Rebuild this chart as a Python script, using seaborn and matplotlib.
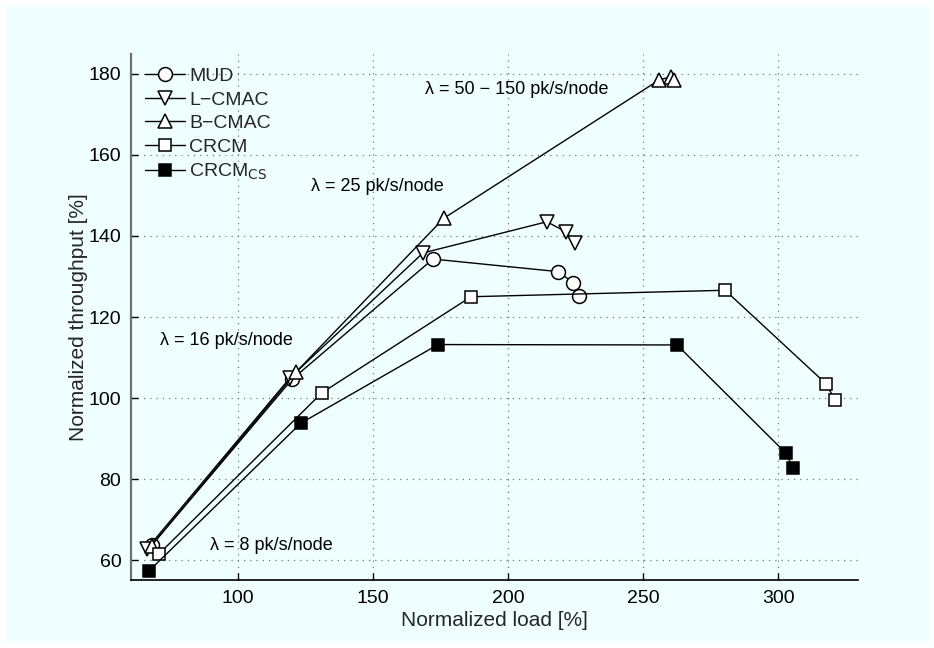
import matplotlib
matplotlib.use("Agg")
import matplotlib.pyplot as plt
import seaborn as sns
import pandas as pd
from matplotlib.patches import Rectangle

# Normalized load [%] and normalized throughput [%] per scheme
mud_load = [68.1, 120.0, 172.2, 218.5, 224.1, 226.3]
mud_thr = [63.7, 104.6, 134.3, 131.2, 128.5, 125.2]

lcmac_load = [66.3, 119.3, 168.5, 214.4, 221.5, 224.8]
lcmac_thr = [62.8, 105.0, 135.8, 143.5, 141.0, 138.3]

bcmac_load = [68.0, 121.5, 176.3, 256.0, 260.4, 261.5]
bcmac_thr = [63.6, 106.4, 144.4, 178.5, 179.3, 178.5]

crcm_load = [70.7, 131.1, 186.3, 280.4, 317.8, 321.1]
crcm_thr = [61.5, 101.3, 125.0, 126.6, 103.5, 99.5]

crcmcs_load = [67.0, 123.3, 174.1, 262.6, 302.9, 305.6]
crcmcs_thr = [57.3, 93.8, 113.2, 113.1, 86.4, 82.7]

series_names = ["MUD", "L\u2212CMAC", "B\u2212CMAC", "CRCM", r"CRCM$_{\mathrm{CS}}$"]

x_ticks = [100, 150, 200, 250, 300]
y_ticks = [60, 80, 100, 120, 140, 160, 180]

annotations = [
    (169.3, 176.1, "\u03bb = 50 \u2212 150 pk/s/node"),
    (127.0, 152.1, "\u03bb = 25 pk/s/node"),
    (71.1, 114.3, "\u03bb = 16 pk/s/node"),
    (89.6, 63.7, "\u03bb = 8 pk/s/node"),
]

sns.set_theme(style="white")
plt.rcParams["font.family"] = ["Liberation Sans", "DejaVu Sans"]
plt.rcParams["mathtext.default"] = "regular"

bg = "#EFFFFF"
fig = plt.figure(figsize=(9.34, 6.48), dpi=100, facecolor="white")
fig.patches.append(Rectangle((5 / 934, 5 / 648), 924 / 934, 638 / 648,
                             transform=fig.transFigure, facecolor=bg,
                             edgecolor="none", zorder=-10))
ax = fig.add_axes([131 / 934, 1 - 580 / 648, 727 / 934, 526 / 648])
ax.set_facecolor(bg)

styles = [
    (mud_load, mud_thr, "o", "white", 10),
    (lcmac_load, lcmac_thr, "v", "white", 10),
    (bcmac_load, bcmac_thr, "^", "white", 10),
    (crcm_load, crcm_thr, "s", "white", 8),
    (crcmcs_load, crcmcs_thr, "s", "black", 8),
]

for name, (xs, ys, mk, fc, ms) in zip(series_names, styles):
    df = pd.DataFrame({"load": xs, "thr": ys})
    sns.lineplot(data=df, x="load", y="thr", ax=ax, sort=False, estimator=None,
                 color="black", linewidth=1.0, marker=mk, markersize=ms,
                 markerfacecolor=fc, markeredgecolor="black",
                 markeredgewidth=1.1, label=name)

for x, y, s in annotations:
    ax.text(x, y, s, fontsize=13, ha="left", va="center", color="black")

ax.set_xlim(60.4, 329.6)
ax.set_ylim(55.1, 184.9)
ax.set_xticks(x_ticks)
ax.set_yticks(y_ticks)
ax.tick_params(direction="in", length=5, width=1, labelsize=14,
               colors="black", left=True, bottom=True, pad=7)
ax.grid(True, linestyle=(0, (1, 4)), color="#777777", linewidth=0.9)
for side in ["top", "right"]:
    ax.spines[side].set_visible(False)
ax.spines["left"].set_color("#707070")
ax.spines["left"].set_linewidth(1.6)
ax.spines["bottom"].set_color("black")
ax.spines["bottom"].set_linewidth(1.2)

ax.set_xlabel("Normalized load [%]", fontsize=15, labelpad=3)
ax.set_ylabel("Normalized throughput [%]", fontsize=15, labelpad=0.5)

leg = ax.legend(loc="upper left", bbox_to_anchor=(0.0, 1.0), frameon=False,
                fontsize=14, handlelength=2.1, handletextpad=0.2,
                labelspacing=0.3, borderaxespad=0.3)

fig.savefig("out.png", dpi=100, facecolor="white")
